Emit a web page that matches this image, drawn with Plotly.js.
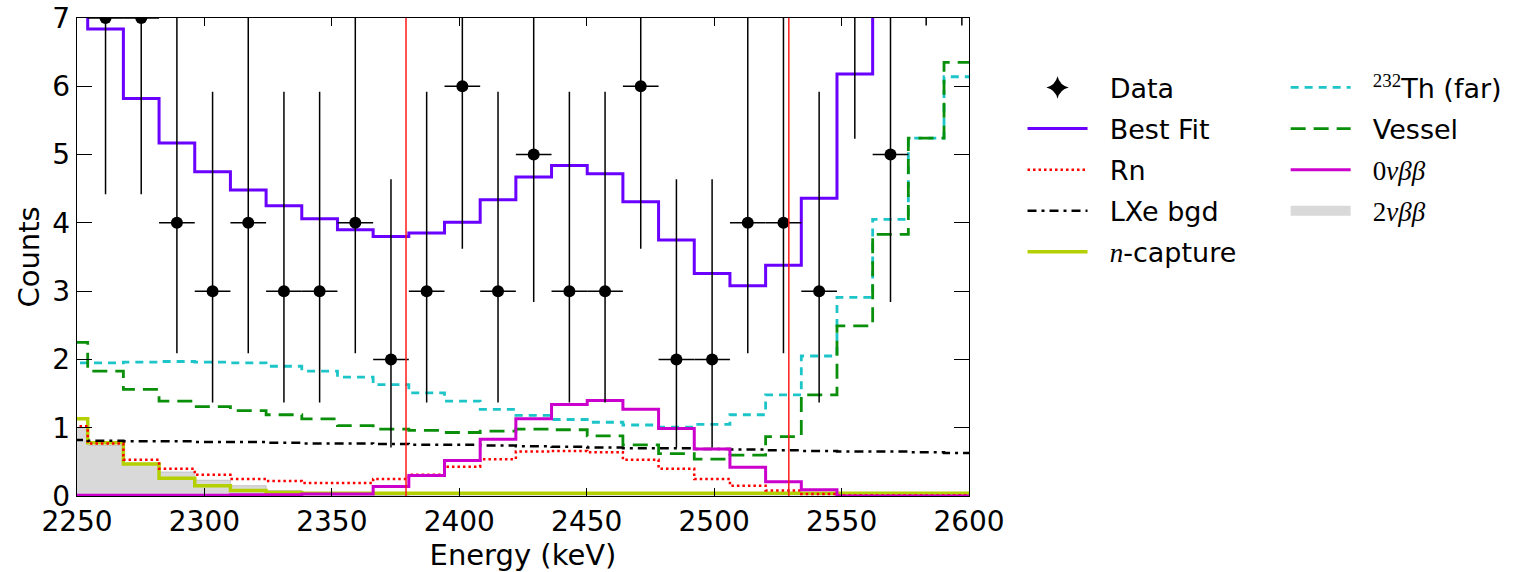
<!DOCTYPE html>
<html>
<head>
<meta charset="utf-8">
<script src="https://cdn.plot.ly/plotly-3.0.1.min.js"></script>
<style>
  html, body { margin: 0; padding: 0; background: #ffffff; }
  #chart { width: 1513px; height: 572px; }
</style>
</head>
<body>
<div id="chart"></div>
<script>
// Histogram bin edges (keV), 14 keV bins
const binEdges = [2240.2, 2254.2, 2268.2, 2282.2, 2296.2, 2310.2, 2324.2, 2338.2, 2352.2,
  2366.2, 2380.2, 2394.2, 2408.2, 2422.2, 2436.2, 2450.2, 2464.2, 2478.2, 2492.2,
  2506.2, 2520.2, 2534.2, 2548.2, 2562.2, 2576.2, 2590.2, 2604.2];

// Fitted components, counts per bin
const bestFit  = [8.2, 6.84, 5.82, 5.17, 4.75, 4.48, 4.25, 4.06, 3.90, 3.80, 3.85, 4.01, 4.34,
  4.67, 4.84, 4.72, 4.31, 3.75, 3.26, 3.08, 3.38, 4.36, 6.18, 8.5, 11.1, 13.1];
const radon    = [1.02, 0.77, 0.53, 0.40, 0.31, 0.25, 0.22, 0.19, 0.19, 0.25, 0.31, 0.43, 0.54,
  0.65, 0.66, 0.64, 0.53, 0.40, 0.25, 0.15, 0.08, 0.03, 0.01, 0.01, 0.01, 0.01];
const lxeBgd   = [0.82, 0.81, 0.80, 0.80, 0.79, 0.79, 0.78, 0.77, 0.77, 0.76, 0.75, 0.75, 0.74,
  0.73, 0.72, 0.71, 0.70, 0.70, 0.69, 0.68, 0.67, 0.66, 0.65, 0.65, 0.64, 0.63];
const nCapture = [1.13, 0.78, 0.47, 0.26, 0.15, 0.08, 0.05, 0.04, 0.04, 0.04, 0.04, 0.04, 0.04,
  0.04, 0.04, 0.04, 0.04, 0.04, 0.04, 0.04, 0.04, 0.04, 0.04, 0.04, 0.04, 0.04];
const th232Far = [1.95, 1.95, 1.96, 1.97, 1.96, 1.95, 1.90, 1.83, 1.74, 1.63, 1.51, 1.39, 1.27,
  1.18, 1.12, 1.08, 1.04, 1.01, 1.05, 1.19, 1.48, 2.05, 2.91, 4.05, 5.24, 6.14];
const vessel   = [2.25, 1.83, 1.56, 1.39, 1.31, 1.25, 1.19, 1.13, 1.03, 0.98, 0.96, 0.93, 0.95,
  0.98, 0.97, 0.88, 0.75, 0.62, 0.54, 0.60, 0.87, 1.48, 2.49, 3.83, 5.24, 6.35];
const zeroNu   = [0.01, 0.01, 0.01, 0.01, 0.01, 0.02, 0.02, 0.03, 0.03, 0.14, 0.30, 0.52, 0.83,
  1.13, 1.34, 1.40, 1.27, 0.99, 0.69, 0.42, 0.21, 0.09, 0.00, 0.00, 0.00, 0.00];
const twoNu    = [1.00, 0.74, 0.48, 0.35, 0.23, 0.15, 0.08, 0.04, 0.02, 0.01, 0.00, 0.00, 0.00,
  0.00, 0.00, 0.00, 0.00, 0.00, 0.00, 0.00, 0.00, 0.00, 0.00, 0.00, 0.00, 0.00];

// Observed events: bin centres, counts and 68% Poisson intervals
const dataEnergy = [2261.2, 2275.2, 2289.2, 2303.2, 2317.2, 2331.2, 2345.2, 2359.2, 2373.2,
  2387.2, 2401.2, 2415.2, 2429.2, 2443.2, 2457.2, 2471.2, 2485.2, 2499.2, 2513.2, 2527.2,
  2541.2, 2555.2, 2569.2, 2583.2, 2597.2];
const dataCounts = [7, 7, 4, 3, 4, 3, 3, 4, 2, 3, 6, 3, 5, 3, 3, 6, 2, 2, 4, 4, 3, 8, 5, 10, 10];
const errMinus = [2.58, 2.58, 1.91, 1.63, 1.91, 1.63, 1.63, 1.91, 1.29, 1.63, 2.38, 1.63, 2.16,
  1.63, 1.63, 2.38, 1.29, 1.29, 1.91, 1.91, 1.63, 2.77, 2.16, 3.11, 3.11];
const errPlus  = [3.77, 3.77, 3.16, 2.92, 3.16, 2.92, 2.92, 3.16, 2.64, 2.92, 3.58, 2.92, 3.38,
  2.92, 2.92, 3.58, 2.64, 2.64, 3.16, 3.16, 2.92, 3.95, 3.38, 4.27, 4.27];
const binHalfWidth = 7;

// Region-of-interest boundaries (keV)
const roiEdges = [2379.1, 2529.3];

const xTicks = [2250, 2300, 2350, 2400, 2450, 2500, 2550, 2600];
const yTicks = [0, 1, 2, 3, 4, 5, 6, 7];

const FONT = 'DejaVu Sans, sans-serif';
const MATH = "font-family:'Liberation Serif',serif";
const PAD = '\u00a0\u00a0';   // gap between legend sample and label

// Step histogram: one y value per bin, repeated at the closing edge
function hist(vals, name, line, extra) {
  return Object.assign({
    type: 'scatter', mode: 'lines', name: PAD + name,
    x: binEdges, y: vals.concat([vals[vals.length - 1]]),
    line: Object.assign({ shape: 'hv' }, line),
    hoverinfo: 'skip'
  }, extra || {});
}

const traces = [
  hist(twoNu, '', { color: '#c4c4c4', width: 1 },
    { fill: 'tozeroy', fillcolor: '#d9d9d9', showlegend: false }),
  hist(nCapture, '<span style="' + MATH + '"><i>n</i></span>-capture',
    { color: '#b4d000', width: 3.5 }, { legendrank: 5, legendgroup: 'g5' }),
  hist(radon, 'Rn', { color: '#ff0000', width: 2.5, dash: '2.5px,3px' },
    { legendrank: 3, legendgroup: 'g3' }),
  hist(lxeBgd, 'LXe bgd', { color: '#000000', width: 2.5, dash: '9px,5px,3px,5px' },
    { legendrank: 4, legendgroup: 'g4' }),
  hist(th232Far, '<span style="' + MATH + '"><sup>232</sup></span>Th (far)',
    { color: '#1dc5c8', width: 2.8, dash: '8px,6px' },
    { legend: 'legend2', legendrank: 1, legendgroup: 'g6' }),
  hist(vessel, 'Vessel', { color: '#0a8f0a', width: 2.8, dash: '15px,8px' },
    { legend: 'legend2', legendrank: 2, legendgroup: 'g7' }),
  hist(zeroNu, '<span style="' + MATH + '">0<i>νββ</i></span>',
    { color: '#cc00cc', width: 3 },
    { legend: 'legend2', legendrank: 3, legendgroup: 'g8' }),
  hist(bestFit, 'Best Fit', { color: '#6a00ff', width: 3 },
    { legendrank: 2, legendgroup: 'g2' }),
  {
    type: 'scatter', mode: 'markers', name: 'Data', showlegend: false,
    x: dataEnergy, y: dataCounts,
    marker: { color: '#000000', size: 12 },
    error_y: { type: 'data', symmetric: false, array: errPlus, arrayminus: errMinus,
      color: '#000000', thickness: 1.5, width: 0 },
    error_x: { type: 'constant', value: binHalfWidth, color: '#000000', thickness: 1.5, width: 0 },
    hoverinfo: 'skip'
  },
  // legend-only samples
  {
    type: 'scatter', mode: 'markers', name: PAD + 'Data', x: [null], y: [null],
    marker: { color: '#000000', size: 26, symbol: 'star-diamond' },
    legendrank: 1, legendgroup: 'g1'
  },
  {
    type: 'scatter', mode: 'lines', name: PAD + '<span style="' + MATH + '">2<i>νββ</i></span>',
    x: [null], y: [null], line: { color: '#d9d9d9', width: 20 },
    legend: 'legend2', legendrank: 4, legendgroup: 'g9'
  }
];

const roiShapes = roiEdges.map(e => ({
  type: 'line', xref: 'x', yref: 'paper', x0: e, x1: e, y0: 0, y1: 1,
  line: { color: '#ff1a1a', width: 1.5 }, layer: 'above'
}));

const legendCommon = {
  font: { family: FONT, size: 27, color: '#000000' },
  bgcolor: 'rgba(0,0,0,0)', borderwidth: 0,
  xanchor: 'left', yanchor: 'top',
  itemwidth: 60, tracegroupgap: 3, traceorder: 'grouped'
};

const layout = {
  width: 1513, height: 572,
  margin: { l: 77, r: 544, t: 18, b: 76, autoexpand: false },
  paper_bgcolor: '#ffffff', plot_bgcolor: '#ffffff',
  font: { family: FONT, color: '#000000' },
  showlegend: true,
  xaxis: {
    range: [2250, 2600], tickvals: xTicks, ticktext: xTicks.map(String),
    ticks: 'inside', ticklen: 8, tickwidth: 1.2, tickcolor: '#000000',
    showline: true, linecolor: '#000000', linewidth: 1.3, mirror: 'ticks',
    showgrid: false, zeroline: false,
    tickfont: { family: FONT, size: 28, color: '#000000' },
    title: { text: 'Energy (keV)', font: { family: FONT, size: 29, color: '#000000' }, standoff: 6 }
  },
  yaxis: {
    range: [0, 7], tickvals: yTicks, ticktext: yTicks.map(String),
    ticks: 'inside', ticklen: 15, tickwidth: 1.2, tickcolor: '#000000',
    showline: true, linecolor: '#000000', linewidth: 1.3, mirror: 'ticks',
    showgrid: false, zeroline: false,
    tickfont: { family: FONT, size: 28, color: '#000000' },
    title: { text: 'Counts', font: { family: FONT, size: 29, color: '#000000' }, standoff: 4 }
  },
  legend: Object.assign({ x: 1.06, y: 0.905 }, legendCommon),
  legend2: Object.assign({ x: 1.355, y: 0.905 }, legendCommon),
  shapes: roiShapes
};

Plotly.newPlot('chart', traces, layout, { staticPlot: true, displayModeBar: false });
</script>
</body>
</html>
